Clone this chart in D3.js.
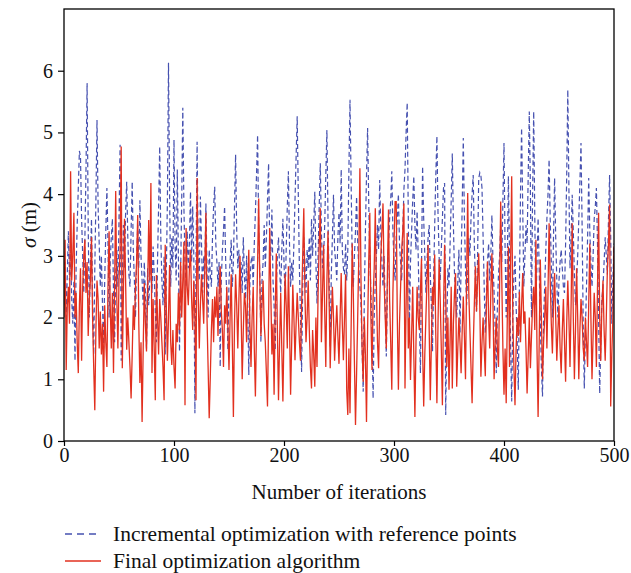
<!DOCTYPE html>
<html lang="en">
<head>
    <meta charset="UTF-8">
    <script src="https://d3js.org/d3.v7.min.js"></script>
    <style>
        body {
            margin: 0;
            background: #fff;
        }
        svg text {
            font-family: "Liberation Serif", "Times New Roman", "DejaVu Serif", serif;
            fill: #111;
        }
        .tick text {
            font-size: 20px;
        }
        .label {
            font-size: 21px;
        }
        .legend-text {
            font-size: 21.5px;
        }
    </style>
</head>
<body>
    <svg id="chart"></svg>

    <script>
        // iterations 0..500
        const xTicks = [0, 100, 200, 300, 400, 500];
        const yTicks = [0, 1, 2, 3, 4, 5, 6];
        const seriesNames = ["Incremental optimization with reference points", "Final optimization algorithm"];

        // sigma (m), incremental optimization with reference points
        const incremental = [
            2.2, 2.9, 2.0, 2.7, 3.4, 2.6, 3.1, 2.3, 1.9, 2.6,
            1.3, 2.8, 3.5, 4.1, 4.7, 4.6, 3.6, 3.0, 2.4, 3.3,
            4.4, 5.8, 3.5, 2.0, 2.9, 3.6, 2.2, 1.4, 2.8, 3.9,
            5.2, 3.8, 3.2, 2.5, 3.0, 2.2, 1.5, 2.6, 3.4, 4.1,
            3.2, 2.0, 2.9, 3.3, 3.6, 2.4, 1.6, 2.7, 3.1, 2.5,
            3.6, 4.8, 1.3, 2.6, 3.5, 2.8, 3.7, 4.2, 3.3, 2.7,
            2.5, 3.4, 4.2, 3.1, 2.6, 2.0, 2.9, 3.5, 2.8, 3.9,
            3.0, 2.6, 2.2, 2.9, 2.4, 1.5, 2.8, 2.2, 2.6, 3.1,
            2.4, 3.15, 2.7, 2.1, 1.6, 2.9, 3.8, 4.77, 3.3, 2.6,
            2.2, 3.0, 1.4, 2.7, 3.9, 6.13, 4.0, 2.5, 3.3, 2.8,
            4.88, 3.2, 2.6, 4.4, 3.0, 1.45, 2.7, 3.9, 5.4, 3.8,
            2.9, 2.5, 3.4, 2.8, 3.2, 4.04, 2.9, 3.8, 3.0, 0.45,
            2.8, 4.85, 3.0, 2.6, 3.96, 3.2, 2.4, 3.0, 2.7, 3.85,
            2.8, 2.0, 3.1, 2.7, 2.5, 3.3, 3.8, 4.12, 3.2, 2.9,
            2.5, 2.9, 1.2, 2.6, 3.1, 3.4, 3.8, 2.9, 2.3, 1.47,
            2.6, 2.9, 3.26, 2.5, 2.9, 3.8, 4.64, 3.4, 2.8, 3.1,
            2.5, 2.9, 2.4, 3.3, 2.7, 2.3, 3.0, 2.2, 1.07, 2.6,
            2.9, 3.0, 2.5, 3.2, 3.7, 4.3, 4.96, 3.4, 2.7, 1.6,
            2.6, 2.9, 3.5, 2.8, 3.3, 3.9, 4.5, 3.2, 3.0, 3.75,
            2.6, 2.2, 1.47, 2.5, 3.0, 3.3, 2.8, 2.4, 3.1, 3.6,
            2.9, 2.3, 3.1, 3.8, 4.37, 3.2, 2.5, 2.9, 2.6, 3.2,
            3.9, 4.6, 5.26, 4.0, 2.8, 2.0, 1.12, 2.5, 3.3, 2.9,
            2.4, 3.1, 2.8, 3.3, 2.6, 3.6, 3.0, 3.5, 4.04, 2.9,
            2.23, 3.0, 3.8, 4.5, 3.4, 2.8, 3.0, 3.5, 4.3, 5.04,
            3.6, 2.6, 1.53, 2.7, 3.3, 3.99, 3.1, 2.9, 2.6, 3.3,
            3.7, 3.2, 4.4, 3.1, 2.8, 2.7, 3.2, 2.6, 3.1, 4.4,
            5.53, 4.2, 3.0, 2.5, 3.0, 3.4, 3.96, 3.2, 2.8, 2.5,
            2.2, 1.5, 0.8, 2.3, 3.4, 4.3, 5.07, 3.9, 3.0, 2.4,
            1.8, 0.69, 2.0, 2.6, 3.0, 3.5, 3.1, 4.23, 3.4, 2.9,
            2.5, 3.0, 2.2, 1.37, 2.5, 3.2, 3.6, 3.9, 4.37, 3.4,
            2.9, 2.6, 3.3, 3.6, 4.0, 3.2, 2.9, 2.6, 3.4, 4.07,
            4.4, 5.0, 5.48, 3.6, 1.91, 2.9, 3.4, 3.9, 4.29, 3.5,
            3.1, 3.72, 3.0, 2.1, 1.1, 2.8, 4.45, 3.6, 3.0, 2.4,
            2.9, 3.3, 3.5, 2.7, 2.2, 1.45, 2.6, 3.5, 4.3, 4.94,
            3.7, 3.0, 2.6, 3.1, 3.6, 4.1, 4.18, 0.42, 1.9, 2.8,
            2.5, 3.2, 3.9, 4.66, 3.5, 2.7, 2.4, 2.0, 2.6, 3.1,
            1.75, 2.9, 3.8, 4.91, 3.6, 2.8, 2.2, 2.7, 3.3, 3.0,
            3.6, 4.0, 4.31, 3.2, 2.6, 2.1, 3.0, 4.25, 4.35, 4.3,
            4.1, 3.3, 2.5, 1.75, 2.4, 2.9, 3.2, 2.6, 3.0, 3.66,
            2.9, 2.4, 1.8, 1.1, 2.2, 2.7, 3.0, 3.5, 2.9, 3.9,
            4.83, 3.1, 2.0, 2.9, 4.29, 3.0, 1.5, 0.64, 2.0, 2.7,
            3.0, 2.2, 1.6, 0.83, 2.5, 4.0, 5.07, 3.8, 2.5, 3.0,
            3.5, 3.2, 4.3, 5.34, 4.1, 2.0, 4.0, 5.34, 3.6, 2.2,
            2.9, 3.61, 2.8, 1.9, 1.2, 0.72, 2.0, 2.5, 3.1, 3.6,
            4.0, 4.56, 3.6, 2.9, 2.0, 3.3, 4.26, 3.3, 2.6, 2.0,
            2.6, 2.9, 3.1, 2.8, 2.5, 2.4, 3.2, 4.3, 5.69, 4.1,
            2.8, 3.3, 3.99, 3.4, 2.7, 2.2, 2.6, 3.0, 3.6, 4.2,
            4.83, 3.5, 1.9, 0.85, 1.8, 2.5, 3.3, 4.26, 3.4, 2.9,
            2.5, 3.0, 3.6, 3.8, 4.1, 3.2, 2.0, 0.77, 1.6, 2.3,
            2.5, 2.9, 3.3, 3.0, 2.7, 3.6, 4.31, 3.3, 1.9, 2.6,
            3.2
        ];

        // sigma (m), final optimization algorithm
        const finalAlgo = [
            2.0, 3.26, 1.15, 2.2, 2.5, 1.9, 4.37, 2.6, 3.0, 3.7,
            2.0, 2.4, 1.6, 1.1, 2.2, 2.8, 1.3, 2.5, 3.0, 3.26,
            2.4, 2.9, 1.7, 2.3, 2.6, 3.3, 2.0, 1.2, 0.5, 1.8,
            2.6, 2.3, 1.5, 2.1, 1.4, 1.9, 0.8, 2.2, 1.6, 1.2,
            2.5, 3.4, 2.2, 1.5, 2.4, 1.1, 2.5, 4.05, 2.3, 1.5,
            2.6, 3.1, 4.77, 1.18, 2.4, 3.6, 2.6, 1.48, 2.0, 1.6,
            1.2, 0.69, 1.4, 2.2, 1.8, 2.5, 2.9, 3.66, 1.9, 0.94,
            1.6, 0.31, 1.5, 2.56, 1.9, 1.45, 2.4, 3.58, 2.6, 4.18,
            1.1, 2.3, 1.5, 0.66, 2.69, 2.0, 1.4, 2.3, 2.0, 1.6,
            1.2, 0.66, 3.18, 2.2, 1.3, 2.0, 2.85, 1.6, 1.23, 1.8,
            1.2, 0.85, 1.9, 1.6, 2.4, 1.8, 2.9, 2.0, 2.6, 3.23,
            0.58, 3.45, 2.5, 2.2, 2.8, 3.1, 2.3, 1.8, 2.6, 2.0,
            0.66, 4.26, 2.4, 1.5, 2.2, 2.7, 2.3, 1.9, 2.8, 3.7,
            2.0, 1.2, 0.37, 1.04, 1.8, 2.3, 1.6, 2.34, 2.0, 2.5,
            1.7, 2.4, 2.83, 2.1, 1.8, 1.2, 2.2, 1.9, 2.5, 1.8,
            1.15, 2.0, 2.7, 1.6, 0.39, 1.9, 2.7, 2.2, 1.5, 2.3,
            3.0, 2.1, 1.0, 1.8, 2.4, 2.2, 1.6, 2.5, 3.1, 1.9,
            1.2, 2.0, 2.5, 1.5, 0.72, 1.8, 2.9, 3.93, 2.6, 1.7,
            2.2, 2.6, 1.9, 1.6, 1.1, 0.56, 2.0, 3.45, 2.4, 1.4,
            1.9, 0.75, 2.1, 3.04, 1.8, 0.66, 1.6, 2.4, 1.5, 0.64,
            1.8, 2.7, 2.2, 1.5, 2.83, 1.9, 0.75, 1.6, 2.53, 2.0,
            1.31, 1.9, 2.4, 2.0, 1.6, 1.3, 2.2, 3.0, 3.77, 2.4,
            1.6, 2.0, 2.6, 1.8, 1.2, 0.85, 1.8, 1.4, 0.88, 2.0,
            1.2, 2.4, 3.2, 3.77, 1.6, 2.4, 3.18, 2.1, 1.2, 2.6,
            3.4, 2.3, 1.18, 1.9, 2.5, 2.0, 1.3, 1.8, 2.2, 1.7,
            1.25, 2.0, 2.72, 1.9, 1.31, 2.0, 2.7, 0.83, 0.42, 1.5,
            0.45, 1.8, 3.2, 2.4, 1.3, 0.26, 1.1, 2.0, 3.0, 4.42,
            2.6, 1.5, 0.96, 2.0, 1.4, 0.31, 1.8, 2.9, 3.7, 2.0,
            1.15, 2.3, 2.8, 3.77, 2.5, 1.6, 1.18, 2.2, 3.0, 3.4,
            3.85, 2.6, 2.0, 1.5, 2.7, 3.75, 2.3, 1.6, 0.83, 2.4,
            3.2, 3.88, 3.88, 2.0, 0.83, 1.9, 2.5, 3.1, 3.4, 3.85,
            0.85, 2.2, 3.37, 1.5, 2.0, 0.99, 1.7, 2.5, 1.4, 0.39,
            1.6, 2.5, 2.0, 1.8, 2.4, 2.96, 1.5, 0.56, 1.4, 2.0,
            2.6, 3.18, 1.8, 0.66, 1.6, 2.5, 2.2, 3.02, 1.7, 0.61,
            1.9, 2.94, 2.3, 1.5, 0.58, 2.1, 3.18, 2.4, 1.2, 2.0,
            0.83, 1.6, 2.5, 0.85, 1.9, 2.4, 2.72, 0.88, 1.5, 2.0,
            1.6, 1.1, 1.8, 2.34, 1.7, 1.0, 2.6, 4.02, 2.4, 1.8,
            1.2, 0.61, 1.5, 2.2, 2.83, 2.1, 2.6, 3.04, 2.2, 1.04,
            1.6, 2.0, 1.5, 1.05, 2.2, 2.91, 2.0, 1.5, 2.4, 3.04,
            2.2, 1.0, 1.6, 2.0, 1.5, 1.2, 2.5, 3.88, 2.6, 1.5,
            0.75, 1.5, 0.61, 2.0, 3.15, 1.2, 2.9, 4.29, 2.0, 1.2,
            0.58, 1.5, 2.0, 1.7, 2.42, 1.6, 2.2, 2.72, 1.9, 2.1,
            1.5, 0.77, 1.4, 2.0, 1.18, 1.7, 2.2, 2.5, 1.8, 3.26,
            1.5, 0.39, 1.6, 2.94, 2.0, 1.0, 1.6, 2.0, 2.5, 1.5,
            2.4, 3.53, 2.6, 1.9, 1.42, 2.2, 2.72, 2.0, 1.3, 1.8,
            2.2, 1.5, 1.1, 1.8, 2.3, 1.6, 0.96, 1.9, 2.6, 2.0,
            1.2, 2.2, 3.53, 2.0, 1.0, 1.8, 2.8, 2.0, 1.0, 1.8,
            2.3, 2.0, 1.5, 1.3, 2.0, 1.6, 1.2, 2.2, 3.2, 2.0,
            1.0, 1.7, 2.4, 2.0, 1.2, 2.5, 3.7, 2.0, 1.3, 2.2,
            2.6, 1.8, 1.3, 2.0, 2.8, 3.2, 3.83, 0.56, 1.4, 2.0,
            3.15
        ];

        const colors = ["#4651b0", "#e2301f"];

        function drawChart() {
            const width = 631, height = 573;
            const margin = { top: 9, right: 17, bottom: 132, left: 64 };
            const w = width - margin.left - margin.right;
            const h = height - margin.top - margin.bottom;

            const svg = d3.select("#chart")
                .attr("width", width)
                .attr("height", height);

            const g = svg.append("g")
                .attr("transform", `translate(${margin.left},${margin.top})`);

            const x = d3.scaleLinear().domain([0, 500]).range([0, w]);
            const y = d3.scaleLinear().domain([0, 7]).range([h, 0]);

            g.append("clipPath").attr("id", "clip")
                .append("rect").attr("width", w).attr("height", h);

            const line = d3.line()
                .x((d, i) => x(i))
                .y(d => y(d));

            g.append("path")
                .datum(incremental)
                .attr("clip-path", "url(#clip)")
                .attr("fill", "none")
                .attr("stroke", colors[0])
                .attr("stroke-width", 1.2)
                .attr("stroke-dasharray", "5,3")
                .attr("d", line);

            g.append("path")
                .datum(finalAlgo)
                .attr("clip-path", "url(#clip)")
                .attr("fill", "none")
                .attr("stroke", colors[1])
                .attr("stroke-width", 1.3)
                .attr("d", line);

            // frame
            g.append("rect")
                .attr("width", w)
                .attr("height", h)
                .attr("fill", "none")
                .attr("stroke", "#000")
                .attr("stroke-width", 1.3);

            const xAxis = g.append("g")
                .attr("transform", `translate(0,${h})`)
                .call(d3.axisBottom(x).tickValues(xTicks).tickFormat(d3.format("d")).tickSize(5).tickPadding(2));
            const yAxis = g.append("g")
                .call(d3.axisLeft(y).tickValues(yTicks).tickFormat(d3.format("d")).tickSize(6).tickPadding(5));

            [xAxis, yAxis].forEach(a => {
                a.attr("font-family", null).attr("font-size", null);
                a.select(".domain").remove();
                a.selectAll(".tick line").attr("stroke", "#000").attr("stroke-width", 1.2);
            });

            g.append("text")
                .attr("class", "label")
                .attr("x", w / 2)
                .attr("y", h + 58)
                .attr("text-anchor", "middle")
                .text("Number of iterations");

            const yLab = svg.append("text")
                .attr("class", "label")
                .attr("transform", `translate(36,${margin.top + h / 2}) rotate(-90)`)
                .attr("text-anchor", "middle");
            yLab.append("tspan").style("font-style", "italic").text("σ");
            yLab.append("tspan").text(" (m)");

            const legend = svg.append("g").attr("transform", "translate(65,534)");
            seriesNames.forEach((name, i) => {
                const row = legend.append("g").attr("transform", `translate(0,${i * 27})`);
                row.append("line")
                    .attr("x1", 0).attr("x2", 36)
                    .attr("stroke", colors[i])
                    .attr("stroke-width", 1.3)
                    .attr("stroke-dasharray", i === 0 ? "7,5" : null);
                row.append("text")
                    .attr("class", "legend-text")
                    .attr("x", 48)
                    .attr("y", 7)
                    .text(name);
            });
        }

        drawChart();
    </script>
</body>
</html>
